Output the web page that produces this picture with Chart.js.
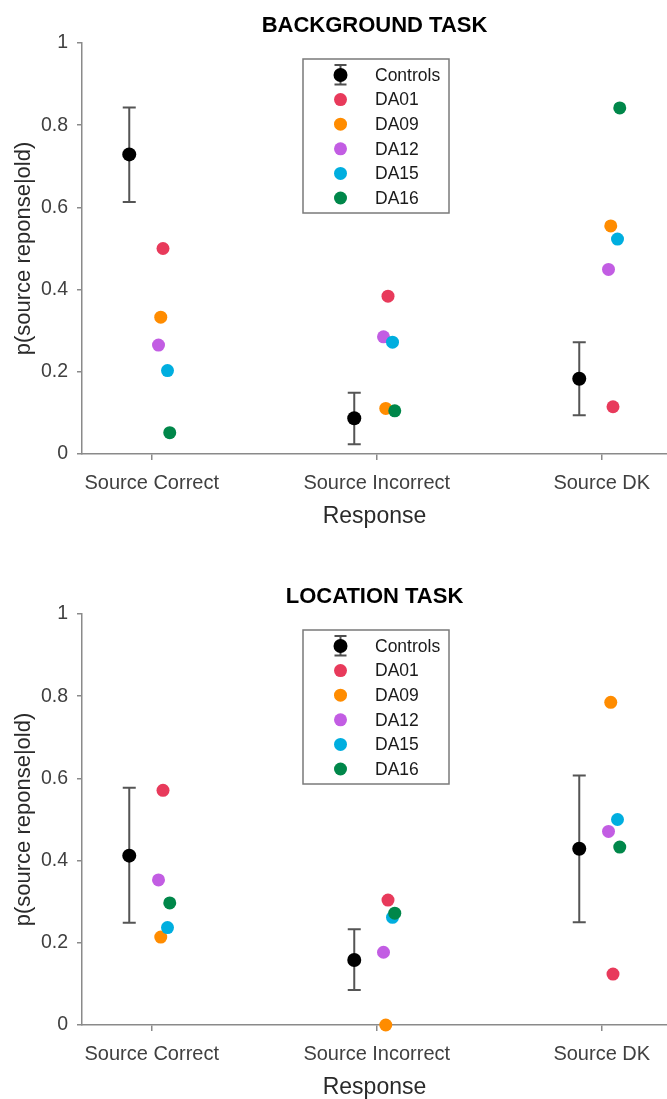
<!DOCTYPE html>
<html>
<head>
<meta charset="utf-8">
<script src="https://cdn.jsdelivr.net/npm/chart.js@4.4.1/dist/chart.umd.min.js"></script>
<style>
  html, body { margin: 0; padding: 0; background: #fff; overflow: hidden; }
  body { width: 667px; height: 1099px; position: relative; }
  canvas { position: absolute; left: 0; }
  #bgChart { top: 0; }
  #locChart { top: 571px; }
</style>
</head>
<body>
<canvas id="bgChart" width="667" height="530"></canvas>
<canvas id="locChart" width="667" height="530"></canvas>
<script>
let categories = ["Source Correct", "Source Incorrect", "Source DK"];
let seriesNames = ["Controls", "DA01", "DA09", "DA12", "DA15", "DA16"];
let seriesColors = ["#000000", "#E83A5B", "#FF8C00", "#C25DE3", "#00AEDF", "#00874A"];
// horizontal jitter of each group around its category
let xJitter = [-0.1, 0.05, 0.04, 0.03, 0.07, 0.08];

/////////// BACKGROUND TASK /////////////
let bgControls = [0.729, 0.087, 0.183];
let bgControlsLow = [0.613, 0.024, 0.094];
let bgControlsHigh = [0.843, 0.149, 0.272];
let bgDA01 = [0.500, 0.384, 0.115];
let bgDA09 = [0.333, 0.111, 0.555];
let bgDA12 = [0.265, 0.285, 0.449];
let bgDA15 = [0.203, 0.272, 0.523];
let bgDA16 = [0.052, 0.105, 0.842];

/////////// LOCATION TASK /////////////
let locControls = [0.412, 0.158, 0.429];
let locControlsLow = [0.249, 0.085, 0.250];
let locControlsHigh = [0.577, 0.233, 0.607];
let locDA01 = [0.571, 0.304, 0.124];
let locDA09 = [0.214, 0.000, 0.785];
let locDA12 = [0.353, 0.177, 0.471];
let locDA15 = [0.237, 0.262, 0.500];
let locDA16 = [0.297, 0.272, 0.433];

let yTicks = [0, 0.2, 0.4, 0.6, 0.8, 1];

Chart.defaults.font.family = "'Liberation Sans', Arial, sans-serif";

let axisGrey = "#8a8a8a";
let labelGrey = "#404040";

// error bars for the Controls group
let errorBarPlugin = {
    id: "errorBars",
    beforeDatasetsDraw(chart, args, opts) {
        let ctx = chart.ctx;
        let x = chart.scales.x, y = chart.scales.y;
        ctx.save();
        ctx.strokeStyle = "#555555";
        ctx.lineWidth = 2;
        opts.low.forEach((lo, i) => {
            let px = x.getPixelForValue(i + 1 + xJitter[0]);
            let top = y.getPixelForValue(opts.high[i]);
            let bot = y.getPixelForValue(lo);
            ctx.beginPath();
            ctx.moveTo(px, top); ctx.lineTo(px, bot);
            ctx.moveTo(px - 6.5, top); ctx.lineTo(px + 6.5, top);
            ctx.moveTo(px - 6.5, bot); ctx.lineTo(px + 6.5, bot);
            ctx.stroke();
        });
        ctx.restore();
    }
};

// boxed legend inside the plot area
let boxLegendPlugin = {
    id: "boxLegend",
    afterDraw(chart) {
        let ctx = chart.ctx;
        let a = chart.chartArea;
        let left = a.left + 221, top = a.top + 16;
        let w = 146, h = 154;
        ctx.save();
        ctx.strokeStyle = "#7a7a7a";
        ctx.lineWidth = 1.5;
        ctx.strokeRect(left, top, w, h);
        ctx.font = "17.5px 'Liberation Sans', Arial, sans-serif";
        ctx.textBaseline = "middle";
        ctx.textAlign = "left";
        seriesNames.forEach((name, i) => {
            let cy = top + 16 + i * 24.6;
            let cx = left + 37.5;
            if (i === 0) {
                ctx.strokeStyle = "#505050";
                ctx.lineWidth = 2;
                ctx.beginPath();
                ctx.moveTo(cx, cy - 10); ctx.lineTo(cx, cy + 9.5);
                ctx.moveTo(cx - 6, cy - 10); ctx.lineTo(cx + 6, cy - 10);
                ctx.moveTo(cx - 6, cy + 9.5); ctx.lineTo(cx + 6, cy + 9.5);
                ctx.stroke();
            }
            ctx.fillStyle = seriesColors[i];
            ctx.beginPath();
            ctx.arc(cx, cy, i === 0 ? 7 : 6.5, 0, Math.PI * 2);
            ctx.fill();
            ctx.fillStyle = "#1a1a1a";
            ctx.fillText(name, left + 72, cy + 1);
        });
        ctx.restore();
    }
};

function makeDatasets(groups) {
    return groups.map((vals, s) => ({
        label: seriesNames[s],
        data: vals.map((v, i) => ({ x: i + 1 + xJitter[s], y: v })),
        backgroundColor: seriesColors[s],
        borderWidth: 0,
        pointRadius: s === 0 ? 7 : 6.5,
        pointHoverRadius: s === 0 ? 7 : 6.5,
        order: 10 - s,
        clip: false,
    }));
}

function makeOptions(title, low, high) {
    return {
        responsive: false,
        animation: false,
        layout: { padding: 0, autoPadding: false },
        plugins: {
            legend: { display: false },
            tooltip: { enabled: false },
            title: {
                display: true,
                fullSize: false, // centre over the plot, not the canvas
                text: title,
                color: "#000",
                font: { size: 22, weight: "bold" },
                padding: { top: 12.8, bottom: 3.8 },
            },
            errorBars: { low: low, high: high },
        },
        scales: {
            x: {
                type: "linear",
                min: 0.69,
                max: 3.29,
                afterBuildTicks: (axis) => {
                    axis.ticks = categories.map((c, i) => ({ value: i + 1 }));
                },
                afterFit: (axis) => {
                    axis.height = 76;
                    axis.paddingLeft = 0;
                    axis.paddingRight = 0;
                },
                ticks: {
                    callback: (v) => categories[Math.round(v) - 1],
                    color: labelGrey,
                    font: { size: 20 },
                    padding: 11,
                    maxRotation: 0,
                    autoSkip: false,
                },
                grid: { drawOnChartArea: false, tickLength: 6, color: axisGrey, lineWidth: 1.5 },
                border: { color: axisGrey, width: 1.5 },
                title: {
                    display: true,
                    text: "Response",
                    color: "#2a2a2a",
                    font: { size: 23 },
                    padding: { top: 0, bottom: 0 },
                },
            },
            y: {
                min: 0,
                max: 1,
                afterBuildTicks: (axis) => {
                    axis.ticks = yTicks.map((v) => ({ value: v }));
                },
                afterFit: (axis) => { axis.width = 82; },
                ticks: {
                    color: labelGrey,
                    font: { size: 19.5 },
                    padding: 9,
                    callback: (v) => String(+v.toFixed(1)),
                },
                grid: { drawOnChartArea: false, tickLength: 5, color: axisGrey, lineWidth: 1.5 },
                border: { color: axisGrey, width: 1.5 },
                title: {
                    display: true,
                    text: "p(source reponse|old)",
                    color: "#2a2a2a",
                    font: { size: 22 },
                    padding: { top: 11, bottom: 0 },
                },
            },
        },
    };
}

let bgChart = new Chart(document.getElementById("bgChart"), {
    type: "scatter",
    plugins: [errorBarPlugin, boxLegendPlugin],
    data: { datasets: makeDatasets([bgControls, bgDA01, bgDA09, bgDA12, bgDA15, bgDA16]) },
    options: makeOptions("BACKGROUND TASK", bgControlsLow, bgControlsHigh),
});

let locChart = new Chart(document.getElementById("locChart"), {
    type: "scatter",
    plugins: [errorBarPlugin, boxLegendPlugin],
    data: { datasets: makeDatasets([locControls, locDA01, locDA09, locDA12, locDA15, locDA16]) },
    options: makeOptions("LOCATION TASK", locControlsLow, locControlsHigh),
});
</script>
</body>
</html>
